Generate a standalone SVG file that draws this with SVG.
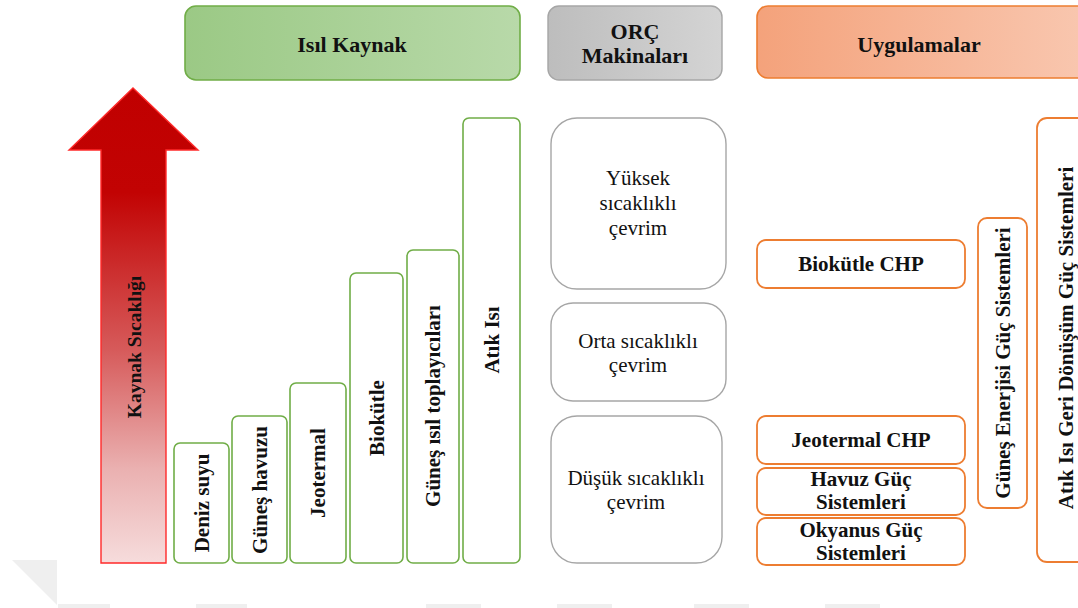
<svg xmlns="http://www.w3.org/2000/svg" width="1078" height="608" viewBox="0 0 1078 608">
<defs>
<linearGradient id="gGreen" x1="0" y1="0" x2="1" y2="0"><stop offset="0" stop-color="#9bc985"/><stop offset="1" stop-color="#b8d9a9"/></linearGradient>
<linearGradient id="gGray" x1="0" y1="0" x2="1" y2="0"><stop offset="0" stop-color="#bdbdbd"/><stop offset="1" stop-color="#d4d4d4"/></linearGradient>
<linearGradient id="gOrange" x1="0" y1="0" x2="1" y2="0"><stop offset="0" stop-color="#f4a27b"/><stop offset="1" stop-color="#f9c8b1"/></linearGradient>
<linearGradient id="gRed" x1="0" y1="88" x2="0" y2="563" gradientUnits="userSpaceOnUse"><stop offset="0" stop-color="#c00000"/><stop offset="0.22" stop-color="#c20303"/><stop offset="0.55" stop-color="#d65a5a"/><stop offset="0.8" stop-color="#eab0b0"/><stop offset="1" stop-color="#f6dcdc"/></linearGradient>
</defs>
<style>
.t{font-family:"Liberation Serif","Times New Roman",serif;fill:#111;}
.b{font-weight:bold;}
.hdr{font-size:22px;}
.bar{font-size:21px;}
.orc{font-size:21px;}
.app{font-size:21px;}
.green{fill:#fff;stroke:#70ad47;stroke-width:1.6;}
.orange{fill:#fff;stroke:#ed7d31;stroke-width:1.8;}
.grayb{fill:#fff;stroke:#a6a6a6;stroke-width:1.4;}
.wm{fill:#efefef;}
</style>
<rect width="1078" height="608" fill="#fff"/>

<g id="watermark">
<polygon class="wm" points="12,560 57,560 57,605"/>
<rect class="wm" x="58" y="604" width="52" height="4"/>
<rect class="wm" x="196" y="604" width="51" height="4"/>
<rect class="wm" x="426" y="604" width="55" height="4"/>
<rect class="wm" x="557" y="604" width="55" height="4"/>
<rect class="wm" x="694" y="604" width="55" height="4"/>
<rect class="wm" x="825" y="604" width="55" height="4"/>
</g>

<g id="header-isil-kaynak">
<rect x="185" y="6" width="335" height="74" rx="11" fill="url(#gGreen)" stroke="#70ad47" stroke-width="1.6"/>
<text class="t b hdr" x="352" y="44" text-anchor="middle" dominant-baseline="central">Isıl Kaynak</text>
</g>
<g id="header-orc">
<rect x="548" y="6" width="174" height="74" rx="11" fill="url(#gGray)" stroke="#a6a6a6" stroke-width="1.4"/>
<text class="t b hdr" x="635" y="31" text-anchor="middle" dominant-baseline="central">ORÇ</text>
<text class="t b hdr" x="635" y="55" text-anchor="middle" dominant-baseline="central">Makinaları</text>
</g>
<g id="header-uygulamalar">
<rect x="757" y="6" width="340" height="72" rx="11" fill="url(#gOrange)" stroke="#ed7d31" stroke-width="1.6"/>
<text class="t b hdr" x="919" y="44" text-anchor="middle" dominant-baseline="central">Uygulamalar</text>
</g>

<g id="arrow-kaynak-sicakligi">
<polygon points="133,88 198,150 166,150 166,563 101,563 101,150 69,150" fill="url(#gRed)" stroke="#ff2a2a" stroke-width="1.4" stroke-linejoin="miter"/>
<text class="t b" font-size="19.5" transform="translate(134,347) rotate(-90)" text-anchor="middle" dominant-baseline="central">Kaynak Sıcaklığı</text>
</g>

<g id="src-deniz-suyu">
<rect class="green" x="174" y="443" width="55" height="120" rx="6"/>
<text class="t b bar" transform="translate(202,503) rotate(-90)" text-anchor="middle" dominant-baseline="central">Deniz suyu</text>
</g>
<g id="src-gunes-havuzu">
<rect class="green" x="232" y="416" width="55" height="147" rx="6"/>
<text class="t b bar" transform="translate(260,490) rotate(-90)" text-anchor="middle" dominant-baseline="central">Güneş havuzu</text>
</g>
<g id="src-jeotermal">
<rect class="green" x="290" y="383" width="56" height="180" rx="6"/>
<text class="t b bar" transform="translate(318,473) rotate(-90)" text-anchor="middle" dominant-baseline="central">Jeotermal</text>
</g>
<g id="src-biokutle">
<rect class="green" x="350" y="273" width="53" height="290" rx="6"/>
<text class="t b bar" transform="translate(377,418) rotate(-90)" text-anchor="middle" dominant-baseline="central">Biokütle</text>
</g>
<g id="src-gunes-isil">
<rect class="green" x="407" y="250" width="52" height="313" rx="6"/>
<text class="t b bar" transform="translate(433,406) rotate(-90)" text-anchor="middle" dominant-baseline="central">Güneş ısıl toplayıcıları</text>
</g>
<g id="src-atik-isi">
<rect class="green" x="463" y="118" width="57" height="445" rx="6"/>
<text class="t b bar" transform="translate(492,340) rotate(-90)" text-anchor="middle" dominant-baseline="central">Atık Isı</text>
</g>

<g id="orc-yuksek">
<rect class="grayb" x="551" y="118" width="175" height="171" rx="26"/>
<text class="t orc" x="638" y="178" text-anchor="middle" dominant-baseline="central">Yüksek</text>
<text class="t orc" x="638" y="203" text-anchor="middle" dominant-baseline="central">sıcaklıklı</text>
<text class="t orc" x="638" y="228" text-anchor="middle" dominant-baseline="central">çevrim</text>
</g>
<g id="orc-orta">
<rect class="grayb" x="551" y="303" width="175" height="98" rx="22"/>
<text class="t orc" x="638" y="341" text-anchor="middle" dominant-baseline="central">Orta sıcaklıklı</text>
<text class="t orc" x="638" y="365" text-anchor="middle" dominant-baseline="central">çevrim</text>
</g>
<g id="orc-dusuk">
<rect class="grayb" x="551" y="416" width="171" height="147" rx="26"/>
<text class="t orc" x="636" y="478" text-anchor="middle" dominant-baseline="central">Düşük sıcaklıklı</text>
<text class="t orc" x="636" y="502" text-anchor="middle" dominant-baseline="central">çevrim</text>
</g>

<g id="app-biokutle-chp">
<rect class="orange" x="757" y="240" width="208" height="48" rx="9"/>
<text class="t b app" x="861" y="264" text-anchor="middle" dominant-baseline="central">Biokütle CHP</text>
</g>
<g id="app-jeotermal-chp">
<rect class="orange" x="757" y="416" width="208" height="48" rx="9"/>
<text class="t b app" x="861" y="440" text-anchor="middle" dominant-baseline="central">Jeotermal CHP</text>
</g>
<g id="app-havuz">
<rect class="orange" x="757" y="468" width="208" height="47" rx="9"/>
<text class="t b app" x="861" y="479" text-anchor="middle" dominant-baseline="central">Havuz Güç</text>
<text class="t b app" x="861" y="502" text-anchor="middle" dominant-baseline="central">Sistemleri</text>
</g>
<g id="app-okyanus">
<rect class="orange" x="757" y="518" width="208" height="47" rx="9"/>
<text class="t b app" x="861" y="530" text-anchor="middle" dominant-baseline="central">Okyanus Güç</text>
<text class="t b app" x="861" y="553" text-anchor="middle" dominant-baseline="central">Sistemleri</text>
</g>
<g id="app-gunes-enerjisi">
<rect class="orange" x="978" y="218" width="49" height="290" rx="9"/>
<text class="t b app" transform="translate(1003,363) rotate(-90)" text-anchor="middle" dominant-baseline="central">Güneş Enerjisi Güç Sistemleri</text>
</g>
<g id="app-atik-isi-geri">
<rect class="orange" x="1037" y="118" width="70" height="444" rx="10"/>
<text class="t b app" transform="translate(1066,338) rotate(-90)" text-anchor="middle" dominant-baseline="central">Atık Isı Geri Dönüşüm Güç Sistemleri</text>
</g>
</svg>
